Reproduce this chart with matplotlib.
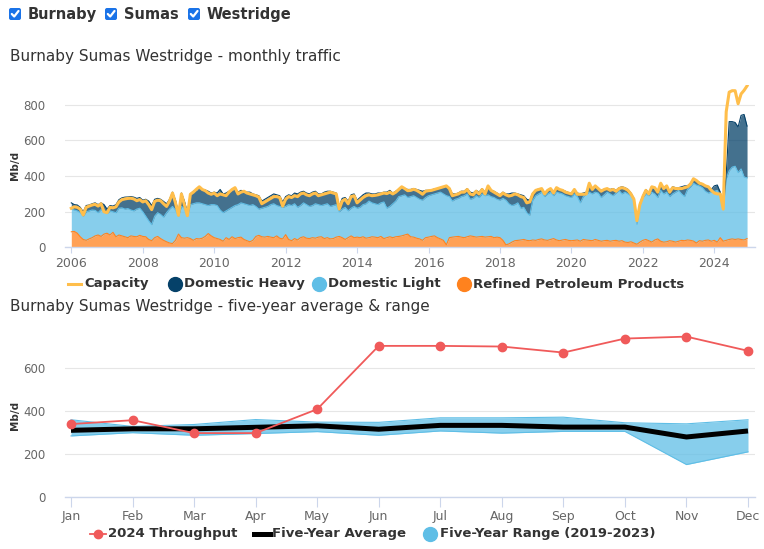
import numpy as np
import matplotlib
matplotlib.use("Agg")
import matplotlib.pyplot as plt
from matplotlib.patches import FancyBboxPatch

# monthly traffic, Jan 2006 - Dec 2024 (Mb/d)
capacity = [
    220, 228, 225, 215, 182, 225, 232, 238, 242, 232, 245, 200,
    195, 225, 222, 228, 255, 268, 272, 275, 276, 272, 262, 268,
    255, 262, 240, 212, 258, 265, 262, 245, 230, 260, 305, 250,
    180, 300, 240, 178, 298, 310, 326, 340, 325, 318, 305, 298,
    305, 290, 300, 295, 290, 310, 325, 335, 300, 310, 315, 305,
    300, 295, 290, 282, 245, 255, 265, 275, 285, 285, 280, 232,
    270, 285, 280, 290, 285, 300, 305, 295, 290, 300, 305, 290,
    295, 300, 305, 310, 305, 300, 215, 260, 270, 245, 285, 290,
    250, 265, 280, 290, 295, 290, 292, 295, 300, 305, 302, 310,
    300, 310, 325, 340, 330, 318, 320, 326, 320, 310, 298, 315,
    318, 320, 325, 330, 335, 340, 345, 330, 290, 295, 300, 310,
    310, 325, 300, 295, 315, 300, 325, 300, 345, 320, 310, 300,
    290, 305, 295, 288, 292, 300, 295, 285, 280, 250, 255, 300,
    320, 325, 330, 300, 320, 330, 305, 335, 325, 320, 310, 305,
    300, 325, 298, 298, 298, 300, 360, 325, 345, 330, 315, 325,
    330, 320, 325, 315, 330, 335, 330, 320, 300, 270, 150, 240,
    285, 320, 300, 340, 335, 310, 360, 330, 345, 310, 335, 330,
    330, 330, 335, 340, 355, 385, 375, 360, 355, 345, 340, 320,
    305, 300, 300, 215, 760, 870, 878, 878, 805, 860, 880, 905,
]
refined = [
    88, 90, 80, 60, 45, 40, 48, 55, 65, 70, 62, 75,
    80, 70, 85, 60, 70, 65, 60, 55, 65, 62, 60, 68,
    62, 60, 45, 38, 55, 62, 50, 40, 32, 25, 22, 40,
    75, 55, 52, 55, 50, 40, 50, 48, 52, 62, 78, 65,
    55, 50, 45, 35, 55, 45, 60, 50, 55, 58, 45, 38,
    32, 40, 62, 68, 60, 58, 62, 58, 55, 65, 52, 48,
    72, 45, 38, 50, 42, 55, 60, 52, 50, 55, 52, 58,
    60, 50, 55, 48, 50, 58, 62, 55, 45, 55, 65, 55,
    58, 55, 60, 52, 55, 60, 58, 55, 62, 50, 55, 60,
    55, 60, 62, 65, 70, 75, 60, 58, 52, 48, 40, 55,
    58, 62, 65, 55, 48, 40, 15, 55, 58, 60, 62, 58,
    55, 60, 65, 62, 58, 60, 62, 58, 60, 62, 55, 58,
    55, 40, 15, 20, 30, 38, 40, 42, 45, 40, 38, 42,
    40, 45, 48, 42, 40, 45, 50, 42, 38, 42, 45, 40,
    38, 40, 42, 35, 45, 42, 40, 38, 45, 40, 35, 38,
    40, 35, 38, 40, 35, 38, 30, 28, 32, 25, 18, 30,
    40, 45, 38, 30, 42, 48, 35, 30, 32, 38, 35, 30,
    35, 40, 38, 42, 40, 36, 25, 38, 35, 40, 42, 35,
    40, 30, 55, 35, 40, 45, 48, 45, 48, 45, 42, 50,
]
light = [
    127, 120, 125, 135, 130, 160, 157, 155, 143, 125, 150, 125,
    110, 135, 115, 135, 150, 157, 155, 163, 145, 143, 155, 152,
    138, 115, 105, 90, 120, 133, 135, 130, 163, 190, 208, 170,
    100, 175, 168, 120, 190, 205, 200, 202, 193, 178, 157, 175,
    185, 185, 165, 160, 150, 170, 165, 185, 185, 192, 200, 202,
    203, 200, 168, 147, 160, 167, 168, 182, 190, 170, 178, 177,
    158, 195, 197, 195, 183, 180, 190, 188, 180, 180, 193, 182,
    175, 190, 190, 182, 185, 182, 138, 160, 180, 150, 155, 175,
    162, 170, 180, 193, 205, 190, 187, 185, 188, 205, 165, 170,
    190, 200, 223, 225, 225, 205, 225, 232, 228, 222, 225, 225,
    232, 233, 235, 250, 262, 260, 275, 230, 202, 210, 213, 227,
    235, 240, 205, 213, 232, 220, 238, 232, 235, 223, 225, 212,
    210, 235, 250, 225, 205, 202, 210, 178, 180, 155, 142, 223,
    250, 255, 262, 243, 260, 265, 240, 268, 267, 258, 245, 245,
    242, 260, 243, 215, 240, 258, 270, 262, 265, 265, 245, 257,
    270, 265, 252, 265, 285, 262, 280, 272, 258, 240, 112, 210,
    240, 255, 252, 280, 258, 232, 285, 270, 278, 247, 265, 280,
    285, 260, 247, 283, 300, 324, 325, 307, 300, 275, 263, 275,
    275, 290, 235, 185, 345, 385, 402, 410, 372, 395, 353, 340,
]
heavy = [
    35, 30, 33, 30, 25, 35, 33, 35, 42, 45, 38, 40,
    25, 30, 32, 45, 48, 56, 67, 65, 75, 77, 60, 60,
    65, 95, 110, 107, 95, 80, 85, 88, 50, 55, 80, 55,
    20, 75, 40, 20, 60, 70, 70, 80, 80, 82, 80, 65,
    70, 70, 115, 105, 100, 100, 95, 95, 70, 70, 70, 70,
    75, 60, 65, 75, 40, 45, 50, 50, 55, 60, 60, 30,
    55, 55, 55, 60, 75, 75, 65, 65, 70, 75, 70, 60,
    65, 70, 70, 85, 75, 65, 30, 60, 55, 55, 75, 70,
    45, 55, 55, 60, 45, 50, 55, 65, 55, 55, 90, 90,
    60, 55, 40, 45, 35, 45, 40, 40, 45, 50, 50, 40,
    30, 27, 28, 25, 25, 40, 55, 50, 40, 30, 30, 30,
    25, 30, 40, 30, 30, 30, 30, 20, 45, 35, 35, 35,
    30, 35, 35, 55, 70, 65, 50, 75, 65, 75, 85, 40,
    30, 28, 20, 20, 22, 20, 20, 25, 20, 22, 25, 23,
    25, 20, 20, 50, 20, 10, 40, 20, 30, 20, 40, 30,
    20, 25, 40, 15, 15, 40, 25, 25, 15, 10, 25, 5,
    10, 25, 15, 30, 35, 35, 35, 35, 35, 30, 40, 25,
    15, 40, 60, 20, 20, 20, 20, 20, 20, 30, 35, 15,
    30, 30, 20, 10, 25, 275, 255, 245, 255, 300, 350, 290,
]

# five-year average & range
months = ["Jan", "Feb", "Mar", "Apr", "May", "Jun",
          "Jul", "Aug", "Sep", "Oct", "Nov", "Dec"]
throughput_2024 = [340, 358, 298, 298, 409, 703, 703, 700, 672, 737, 746, 680]
five_year_avg = [311, 318, 318, 325, 332, 316, 334, 334, 326, 326, 280, 308]
five_year_low = [285, 300, 288, 296, 305, 288, 308, 298, 306, 306, 152, 211]
five_year_high = [360, 329, 338, 361, 349, 348, 369, 369, 372, 346, 341, 360]

C_CAP = "#FFBE4B"
C_HEAVY = "#054169"
C_LIGHT = "#5FBEE6"
C_REF = "#FF821E"
C_RED = "#F05A5A"
TXT = "#333333"
LBL = "#666666"
AXC = "#CCD6EB"
GRID = "#E6E6E6"


def style_axis(ax):
    for s in ["top", "right", "left"]:
        ax.spines[s].set_visible(False)
    ax.spines["bottom"].set_color(AXC)
    ax.spines["bottom"].set_linewidth(1)
    ax.grid(axis="y", color=GRID, lw=0.8)
    ax.set_axisbelow(True)
    ax.tick_params(axis="y", length=0, labelsize=8.5, labelcolor=LBL, pad=14)
    ax.tick_params(axis="x", colors=AXC, labelcolor=LBL, labelsize=9)


fig = plt.figure(figsize=(7.64, 5.49), dpi=100)

# top: monthly traffic
ax1 = fig.add_axes([65 / 764, 1 - 247.5 / 549, 690 / 764, 162.5 / 549])
style_axis(ax1)
n = len(capacity)
x = 2006 + np.arange(n) / 12
ref = np.array(refined)
lt = ref + np.array(light)
tot = lt + np.array(heavy)
ax1.fill_between(x, 0, ref, color=C_REF, alpha=0.75, lw=0)
ax1.fill_between(x, ref, lt, color=C_LIGHT, alpha=0.75, lw=0)
ax1.fill_between(x, lt, tot, color=C_HEAVY, alpha=0.75, lw=0)
ax1.plot(x, ref, color=C_REF, lw=0.8)
ax1.plot(x, lt, color=C_LIGHT, lw=0.8)
ax1.plot(x, tot, color=C_HEAVY, lw=0.8)
ax1.plot(x, capacity, color=C_CAP, lw=2.2)
ax1.set_xlim(2006 - 6.3 / 35.72, 2024 + 40.7 / 35.72)
ax1.set_ylim(0, 910)
ax1.set_yticks([0, 200, 400, 600, 800])
ax1.set_xticks(range(2006, 2025, 2))
ax1.tick_params(axis="x", length=4, pad=3)

# bottom: five-year average & range
ax2 = fig.add_axes([65 / 764, 1 - 497.3 / 549, 690 / 764, 168 / 549])
style_axis(ax2)
mx = np.arange(12)
ax2.fill_between(mx, five_year_low, five_year_high, color=C_LIGHT, alpha=0.75, lw=0)
ax2.plot(mx, five_year_low, color=C_LIGHT, lw=0.8)
ax2.plot(mx, five_year_high, color=C_LIGHT, lw=0.8)
ax2.plot(mx, five_year_avg, color="black", lw=3.6, solid_capstyle="butt")
ax2.plot(mx, throughput_2024, color=C_RED, lw=1.3, marker="o", ms=6)
ax2.set_xlim(-6 / 61.55, 11 + 7 / 61.55)
ax2.set_ylim(0, 780)
ax2.set_yticks([0, 200, 400, 600])
ax2.set_xticks(mx)
ax2.set_xticklabels(months)
ax2.tick_params(axis="x", length=7, pad=2)

# overlay for checkboxes, titles and legends (pixel coords)
ov = fig.add_axes([0, 0, 1, 1])
ov.set_xlim(0, 764)
ov.set_ylim(549, 0)
ov.axis("off")

for bx, name in [(9, "Burnaby"), (105, "Sumas"), (188, "Westridge")]:
    ov.add_patch(FancyBboxPatch((bx, 8), 12, 12, boxstyle="round,pad=0,rounding_size=2",
                                fc="#1A73E8", ec="none"))
    ov.plot([bx + 2.8, bx + 5.2, bx + 9.5], [14, 16.5, 11], color="white", lw=1.6,
            solid_capstyle="round")
    ov.text(bx + 19, 14.5, name, fontsize=10.5, fontweight="bold", color=TXT, va="center")

ov.text(10, 56, "Burnaby Sumas Westridge - monthly traffic", fontsize=11, color=TXT, va="center")
ov.text(10, 306, "Burnaby Sumas Westridge - five-year average & range", fontsize=11,
        color=TXT, va="center")
ov.text(15, 165, "Mb/d", fontsize=7.5, fontweight="bold", color=TXT, rotation=90,
        ha="center", va="center")
ov.text(15, 415, "Mb/d", fontsize=7.5, fontweight="bold", color=TXT, rotation=90,
        ha="center", va="center")

# legend 1
ly = 284
ov.plot([68, 81], [ly, ly], color=C_CAP, lw=2.2)
ov.text(84, ly, "Capacity", fontsize=9.5, fontweight="bold", color=TXT, va="center")
for cx, col, lab in [(175, C_HEAVY, "Domestic Heavy"), (319, C_LIGHT, "Domestic Light"),
                     (464, C_REF, "Refined Petroleum Products")]:
    ov.plot(cx, ly, "o", color=col, ms=10)
    ov.text(cx + 9, ly, lab, fontsize=9.5, fontweight="bold", color=TXT, va="center")

# legend 2
ly = 534
ov.plot([90, 106], [ly, ly], color=C_RED, lw=1.3)
ov.plot(98, ly, "o", color=C_RED, ms=6)
ov.text(108, ly, "2024 Throughput", fontsize=9.5, fontweight="bold", color=TXT, va="center")
ov.plot([254, 270], [ly, ly], color="black", lw=3.6)
ov.text(272, ly, "Five-Year Average", fontsize=9.5, fontweight="bold", color=TXT, va="center")
ov.plot(430, ly, "o", color=C_LIGHT, ms=10)
ov.text(440, ly, "Five-Year Range (2019-2023)", fontsize=9.5, fontweight="bold", color=TXT,
        va="center")

fig.savefig("out.png", dpi=100)
